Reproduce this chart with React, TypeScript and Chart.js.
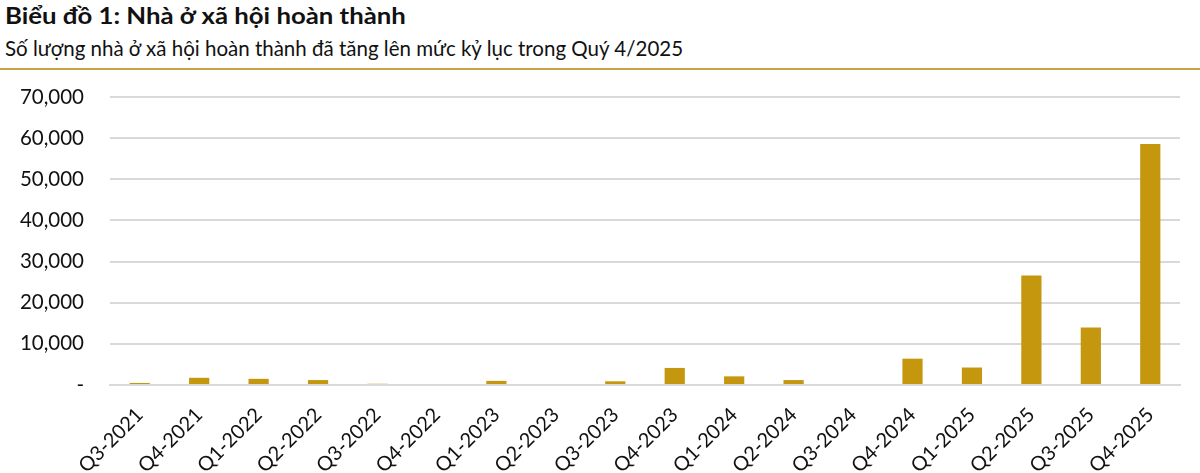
import { useEffect, useRef } from "react";
import { Chart, registerables } from "chart.js";

Chart.register(...registerables);

const quarters = [
  "Q3-2021", "Q4-2021", "Q1-2022", "Q2-2022", "Q3-2022", "Q4-2022",
  "Q1-2023", "Q2-2023", "Q3-2023", "Q4-2023", "Q1-2024", "Q2-2024",
  "Q3-2024", "Q4-2024", "Q1-2025", "Q2-2025", "Q3-2025", "Q4-2025",
];

const completedUnits = [
  500, 1750, 1500, 1200, 300, 0,
  1000, 0, 900, 4150, 2100, 1200,
  0, 6400, 4250, 26600, 14000, 58600,
];

const yTicks = [0, 10000, 20000, 30000, 40000, 50000, 60000, 70000];

const gold = "#c4970f";

export default function App() {
  const canvasRef = useRef(null);
  const chartRef = useRef(null);

  useEffect(() => {
    document.body.style.margin = "0";
    if (chartRef.current) chartRef.current.destroy();

    chartRef.current = new Chart(canvasRef.current, {
      type: "bar",
      data: {
        labels: quarters,
        datasets: [
          {
            label: "Nhà ở xã hội hoàn thành",
            data: completedUnits,
            backgroundColor: gold,
            barPercentage: 0.34,
            categoryPercentage: 1,
          },
        ],
      },
      options: {
        animation: false,
        responsive: false,
        layout: { padding: { top: 27, right: 20, left: 0, bottom: 0 } },
        plugins: {
          legend: { display: false },
          tooltip: { enabled: false },
        },
        scales: {
          x: {
            grid: { display: false },
            border: { color: "#d9d9d9", width: 2 },
            ticks: {
              color: "#111",
              font: { family: "Lato", size: 20 },
              maxRotation: 45,
              minRotation: 45,
              padding: 10,
            },
            afterFit: (s) => {
              s.height = 88;
            },
          },
          y: {
            min: 0,
            max: 70000,
            afterBuildTicks: (s) => {
              s.ticks = yTicks.map((v) => ({ value: v }));
            },
            // tick marks kept invisible so the labels sit 26px left of the plot
            grid: { color: "#d9d9d9", lineWidth: 2, drawTicks: true, tickLength: 26, tickColor: "rgba(0,0,0,0)" },
            border: { display: false },
            ticks: {
              color: "#111",
              font: { family: "Lato", size: 20.5 },
              padding: 0,
              callback: (v) => (v === 0 ? "-" : Number(v).toLocaleString("en-US")),
            },
            afterFit: (s) => {
              s.width = 110;
            },
          },
        },
      },
    });

    return () => {
      if (chartRef.current) chartRef.current.destroy();
    };
  }, []);

  return (
    <div style={{ width: 1200, height: 473, background: "#fff", fontFamily: "Lato, sans-serif", color: "#111" }}>
      <div style={{ paddingLeft: 5, paddingTop: 0, height: 31, fontSize: 23, fontWeight: 700, lineHeight: "30px", whiteSpace: "nowrap" }}>
        <span style={{ display: "inline-block", transform: "scaleX(1.12)", transformOrigin: "left center" }}>
          Biểu đồ 1: Nhà ở xã hội hoàn thành
        </span>
      </div>
      <div style={{ paddingLeft: 5, fontSize: 20.5, lineHeight: "27px", marginTop: 4, whiteSpace: "nowrap" }}>
        Số lượng nhà ở xã hội hoàn thành đã tăng lên mức kỷ lục trong Quý 4/2025
      </div>
      <div style={{ height: 2, background: "#c9a243", marginTop: 6 }} />
      <canvas ref={canvasRef} width={1200} height={403} style={{ display: "block" }} />
    </div>
  );
}
